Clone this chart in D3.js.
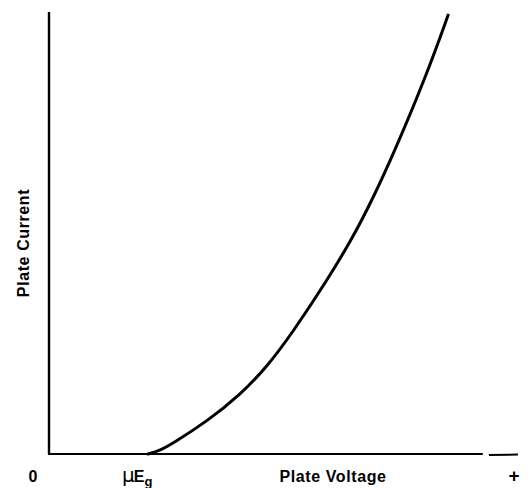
<!DOCTYPE html>
<html>
<head>
<meta charset="utf-8">
<script src="https://cdn.jsdelivr.net/npm/d3@7"></script>
<style>
  html, body { margin: 0; padding: 0; background: #fff; }
  svg text { font-family: "Liberation Sans", Arial, sans-serif; font-weight: bold; fill: #000; }
</style>
</head>
<body>
<svg id="chart" width="530" height="488"></svg>
<script>
// Plate characteristic (arbitrary units, 0..100 on both axes)
const plateVoltage = [21.1, 23.5, 26.4, 33.7, 40.7, 46.7, 52.0, 59.3, 64.8, 68.9, 73.3, 80.6, 85.1];
const plateCurrent = [0, 0.7, 2.4, 7.4, 13.3, 20.0, 27.6, 39.3, 49.0, 57.5, 67.5, 86.0, 99.3];
const xTickLabels = ["0", "μE", "g", "+"];
const xAxisTitle = "Plate Voltage";
const yAxisTitle = "Plate Current";

const svg = d3.select("#chart");
const x = d3.scaleLinear().domain([0, 100]).range([49, 518]);
const y = d3.scaleLinear().domain([0, 100]).range([454, 12]);

// y axis line
svg.append("line")
  .attr("x1", x(0)).attr("x2", x(0))
  .attr("y1", y(0)).attr("y2", y(100))
  .attr("stroke", "#000").attr("stroke-width", 2.4);

// x axis line, broken near the end
svg.append("line")
  .attr("x1", x(0) - 1).attr("x2", x(92.5))
  .attr("y1", y(0)).attr("y2", y(0))
  .attr("stroke", "#000").attr("stroke-width", 2);
svg.append("line")
  .attr("x1", x(93.8)).attr("x2", x(100))
  .attr("y1", y(0) + 1).attr("y2", y(0) + 0.5)
  .attr("stroke", "#000").attr("stroke-width", 2);

// curve
const pts = plateVoltage.map((v, i) => [v, plateCurrent[i]]);
const line = d3.line().x(d => x(d[0])).y(d => y(d[1])).curve(d3.curveBasis);
svg.append("path")
  .attr("d", line(pts))
  .attr("fill", "none").attr("stroke", "#000")
  .attr("stroke-width", 3).attr("stroke-linecap", "round");

// x tick labels
const labY = 482;
svg.append("text").attr("x", 33).attr("y", labY)
  .attr("text-anchor", "middle").attr("font-size", 16).text(xTickLabels[0]);

const mu = svg.append("text").attr("x", 122).attr("y", labY).attr("font-size", 16);
mu.append("tspan").attr("font-size", 20).attr("font-family", "DejaVu Sans").attr("font-weight", "normal").text(xTickLabels[1][0]);
mu.append("tspan").attr("dx", -1).text(xTickLabels[1][1]);
mu.append("tspan").attr("font-size", 13).attr("dy", 4).text(xTickLabels[2]);

svg.append("text").attr("x", 514).attr("y", labY)
  .attr("text-anchor", "middle").attr("font-size", 19).text(xTickLabels[3]);

// axis titles
svg.append("text").attr("x", 333).attr("y", labY)
  .attr("text-anchor", "middle").attr("font-size", 16)
  .attr("letter-spacing", "0.6px").text(xAxisTitle);

svg.append("text")
  .attr("transform", "translate(29,243) rotate(-90)")
  .attr("text-anchor", "middle").attr("font-size", 16)
  .attr("letter-spacing", "0.6px").text(yAxisTitle);
</script>
</body>
</html>
